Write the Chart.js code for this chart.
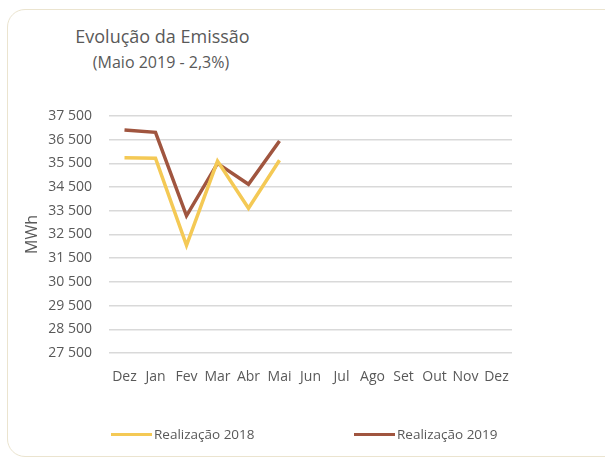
<!DOCTYPE html>
<html>
<head>
<meta charset="utf-8">
<script src="https://cdn.jsdelivr.net/npm/chart.js@4"></script>
<style>
  body { margin: 0; background: #fff; font-family: "Open Sans", sans-serif; }
  #wrap { position: relative; width: 605px; height: 459px; overflow: hidden; }
  #card { position: absolute; left: 7px; top: 9px; width: 620px; height: 446px;
          border: 1.5px solid #ebe4cf; border-radius: 18px; }
  #title { position: absolute; left: 0; width: 325px; top: 24px; text-align: center;
           font-size: 18px; color: #595959; }
  #subtitle { position: absolute; left: 0; width: 322px; top: 51px; text-align: center;
              font-size: 16px; color: #595959; }
  canvas { position: absolute; left: 0; top: 0; }
  #legend { position: absolute; top: 425px; left: 0; width: 605px; font-size: 13.5px; color: #595959; }
  .item { position: absolute; display: flex; align-items: center; }
  .swatch { width: 41px; height: 3px; margin-right: 2px; }
</style>
</head>
<body>
<div id="wrap">
  <div id="card"></div>
  <div id="title">Evolução da Emissão</div>
  <div id="subtitle">(Maio 2019 - 2,3%)</div>
  <canvas id="chart" width="605" height="459"></canvas>
  <div id="legend"></div>
</div>
<script>
const months = ['Dez', 'Jan', 'Fev', 'Mar', 'Abr', 'Mai', 'Jun', 'Jul', 'Ago', 'Set', 'Out', 'Nov', 'Dez'];
const real2018 = [35740, 35720, 32040, 35600, 33610, 35630];
const real2019 = [36910, 36810, 33290, 35500, 34620, 36445];
const colors = ['#f4c955', '#a0553f'];
const seriesNames = ['Realização 2018', 'Realização 2019'];

const fmt = v => String(v).replace(/\B(?=(\d{3})+(?!\d))/g, ' ');

const chart = new Chart(document.getElementById('chart'), {
  type: 'line',
  data: {
    labels: months,
    datasets: [{
      label: seriesNames[0],
      data: real2018,
      borderColor: colors[0],
      backgroundColor: colors[0],
      borderWidth: 3.5,
      pointRadius: 0,
      tension: 0
    }, {
      label: seriesNames[1],
      data: real2019,
      borderColor: colors[1],
      backgroundColor: colors[1],
      borderWidth: 3.5,
      pointRadius: 0,
      tension: 0
    }]
  },
  options: {
    responsive: false,
    devicePixelRatio: 1,
    animation: false,
    layout: { padding: { left: 19, top: 116, right: 93, bottom: 0 } },
    plugins: {
      legend: { display: false },
      tooltip: { enabled: false }
    },
    scales: {
      x: {
        offset: true,
        grid: { display: false, drawTicks: false },
        border: { display: false },
        ticks: {
          color: '#595959',
          font: { family: 'Open Sans', size: 14 },
          padding: 16,
          maxRotation: 0,
          autoSkip: false
        },
        afterFit: scale => { scale.height = 106; }
      },
      y: {
        min: 27500,
        max: 37500,
        grid: { color: '#d9d9d9', lineWidth: 1.5, drawTicks: false },
        border: { display: false },
        ticks: {
          stepSize: 1000,
          color: '#595959',
          font: { family: 'Open Sans', size: 14 },
          padding: 17,
          callback: v => fmt(v)
        },
        afterBuildTicks: scale => {
          scale.ticks = [];
          for (let v = 27500; v <= 37500; v += 1000) scale.ticks.push({ value: v });
        },
        afterFit: scale => { scale.width = 90; },
        title: {
          display: true,
          text: 'MWh',
          color: '#595959',
          font: { family: 'Open Sans', size: 16 },
          padding: { top: 4, bottom: 4 }
        }
      }
    }
  }
});

// legend
const legend = document.getElementById('legend');
const legendX = [111, 354];
chart.data.datasets.forEach((ds, i) => {
  const item = document.createElement('div');
  item.className = 'item';
  item.style.left = legendX[i] + 'px';
  item.innerHTML = '<span class="swatch" style="background:' + ds.borderColor + '"></span><span>' + ds.label + '</span>';
  legend.appendChild(item);
});
</script>
</body>
</html>
